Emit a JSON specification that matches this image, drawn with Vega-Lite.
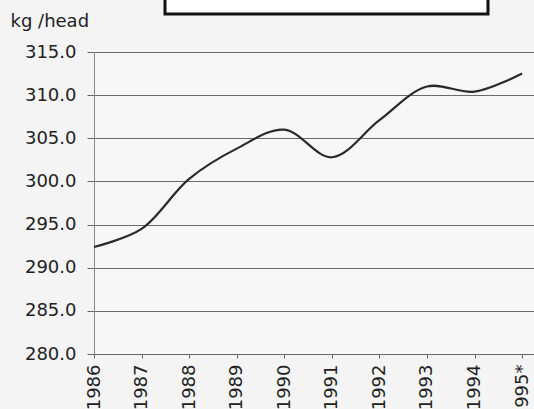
{
  "$schema": "https://vega.github.io/schema/vega-lite/v6.json",
  "width": 440,
  "height": 302,
  "autosize": {"type": "none"},
  "padding": {"left": 94, "top": 52, "right": 0, "bottom": 55},
  "background": "#f4f4f4",
  "config": {
    "view": {"stroke": null, "fill": "#f7f7f7"},
    "font": "DejaVu Sans",
    "axis": {"labelFont": "DejaVu Sans", "labelFontSize": 18, "labelColor": "#222", "titleFont": "DejaVu Sans", "titleFontSize": 18, "titleColor": "#222", "titleFontWeight": "normal"},
    "legend": {"strokeColor": "#111", "strokeWidth": 3, "fillColor": "#ffffff"}
  },
  "data": {
    "values": [
      {"year": 1986, "kg": 292.4, "series": "Meat consumption"},
      {"year": 1987, "kg": 294.5, "series": "Meat consumption"},
      {"year": 1988, "kg": 300.3, "series": "Meat consumption"},
      {"year": 1989, "kg": 303.8, "series": "Meat consumption"},
      {"year": 1990, "kg": 306.0, "series": "Meat consumption"},
      {"year": 1991, "kg": 302.8, "series": "Meat consumption"},
      {"year": 1992, "kg": 307.1, "series": "Meat consumption"},
      {"year": 1993, "kg": 311.0, "series": "Meat consumption"},
      {"year": 1994, "kg": 310.4, "series": "Meat consumption"},
      {"year": 1995, "kg": 312.5, "series": "Meat consumption"}
    ]
  },
  "mark": {"type": "line", "interpolate": "catmull-rom", "strokeWidth": 2.2},
  "encoding": {
    "x": {
      "field": "year", "type": "quantitative",
      "scale": {"domain": [1986, 1995.25], "nice": false, "zero": false},
      "axis": {
        "title": null,
        "values": [1986, 1987, 1988, 1989, 1990, 1991, 1992, 1993, 1994, 1995],
        "labelExpr": "datum.value == 1995 ? '995*' : format(datum.value, 'd')",
        "labelAngle": -90,
        "labelPadding": 6,
        "tickSize": 4,
        "tickColor": "#666",
        "domainColor": "#666",
        "grid": false,
        "labelFlush": false,
        "labelOverlap": false
      }
    },
    "y": {
      "field": "kg", "type": "quantitative",
      "scale": {"domain": [280, 315], "nice": false, "zero": false},
      "axis": {
        "title": "kg /head",
        "titleAngle": 0,
        "titleAlign": "left",
        "titleBaseline": "alphabetic",
        "titleX": -84,
        "titleY": -26,
        "values": [280, 285, 290, 295, 300, 305, 310, 315],
        "format": ".1f",
        "tickSize": 7,
        "tickColor": "#666",
        "domainColor": "#888",
        "labelPadding": 11,
        "grid": true,
        "gridColor": "#6a6a6a",
        "gridOpacity": 1,
        "gridWidth": 1
      }
    },
    "color": {
      "field": "series", "type": "nominal",
      "scale": {"range": ["#2a2a2a"]},
      "legend": {
        "orient": "none",
        "legendX": 71,
        "legendY": -357,
        "title": null,
        "padding": 151,
        "labelExpr": "''",
        "strokeColor": "#111",
        "fillColor": "#ffffff",
        "labelFontSize": 17
      }
    }
  }
}
